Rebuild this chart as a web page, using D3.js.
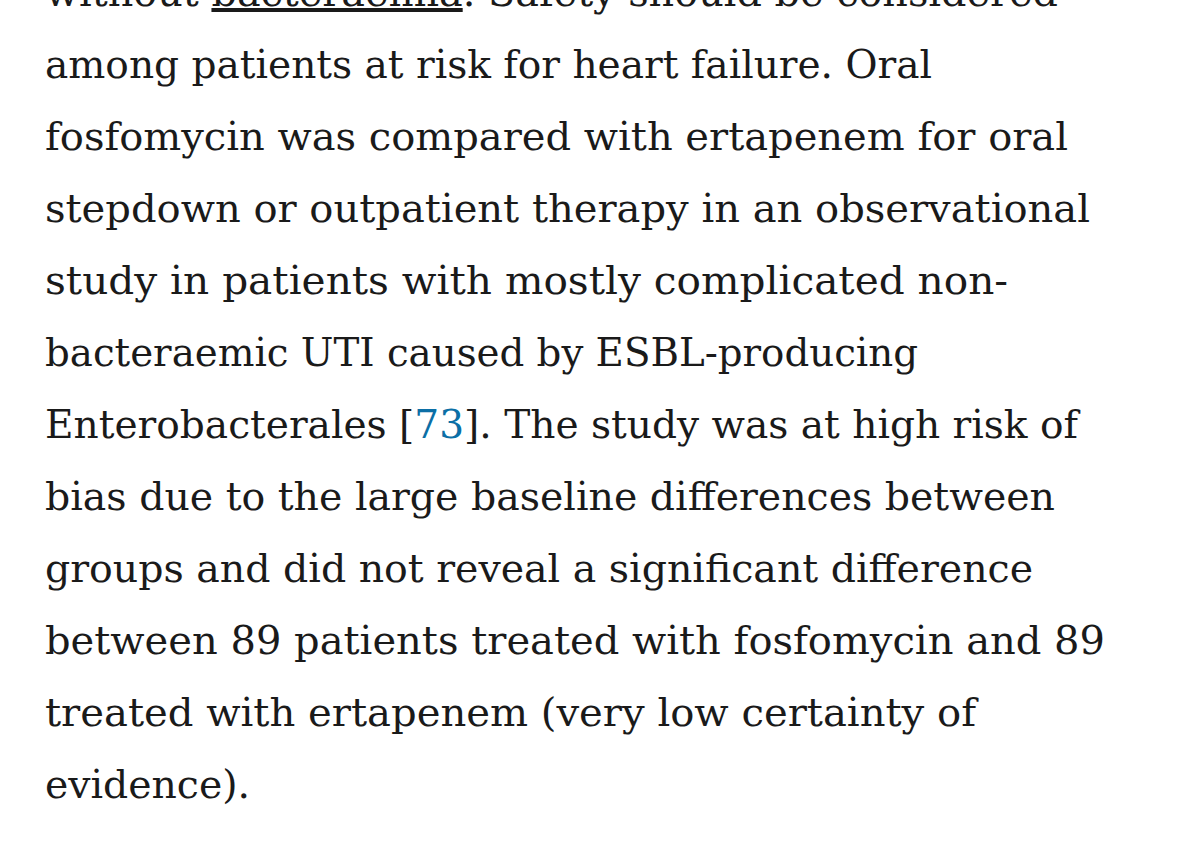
<!DOCTYPE html><html><head><meta charset="utf-8">
<script src="https://cdn.jsdelivr.net/npm/d3@7"></script>
<style>body{margin:0;background:#fff}</style></head><body>
<script>
const lines = [
  [["without ",""],["bacteraemia","u"],[". Safety should be considered",""]],
  [["among patients at risk for heart failure. Oral",""]],
  [["fosfomycin was compared with ertapenem for oral",""]],
  [["stepdown or outpatient therapy in an observational",""]],
  [["study in patients with mostly complicated non-",""]],
  [["bacteraemic UTI caused by ESBL-producing",""]],
  [["Enterobacterales [",""],["73","l"],["]. The study was at high risk of",""]],
  [["bias due to the large baseline differences between",""]],
  [["groups and did not reveal a significant difference",""]],
  [["between 89 patients treated with fosfomycin and 89",""]],
  [["treated with ertapenem (very low certainty of",""]],
  [["evidence).",""]]
];
const lineWidths = [1058, 932, 1068, 1090, 1008, 918, 1078, 1055, 1033, 1105, 976, 250];
const svg = d3.select("body").append("svg").attr("width",1200).attr("height",851);
const y = d3.scaleLinear().domain([0,11]).range([6,798]);
lines.forEach((ln,i)=>{
  const t = svg.append("text").attr("x",45).attr("y",y(i))
    .attr("font-family","DejaVu Serif").attr("font-size",40).attr("fill","#1a1a1a")
    .attr("textLength", lineWidths[i]-45).attr("lengthAdjust","spacingAndGlyphs");
  ln.forEach(([s,k])=>{
    const ts=t.append("tspan").text(s);
    if(k==="u") ts.attr("text-decoration","underline");
    if(k==="l") ts.attr("fill","#0c6fa6");
  });
});
</script></body></html>
